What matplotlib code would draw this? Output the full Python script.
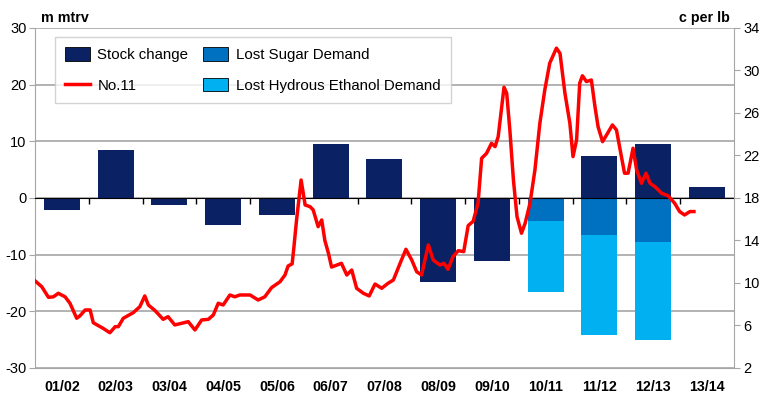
import matplotlib
matplotlib.use("Agg")
import matplotlib.pyplot as plt
import numpy as np
from matplotlib.patches import Patch
from matplotlib.lines import Line2D

plt.rcParams['font.family'] = ['Liberation Sans', 'DejaVu Sans']
plt.rcParams['axes.unicode_minus'] = False

seasons = ['01/02', '02/03', '03/04', '04/05', '05/06', '06/07', '07/08',
           '08/09', '09/10', '10/11', '11/12', '12/13', '13/14']
stock_change = [-2.1, 8.4, -1.2, -4.7, -3.0, 9.5, 6.9, -14.8, -11.1, 0.0, 7.4, 9.5, 1.9]
lost_sugar = [0, 0, 0, 0, 0, 0, 0, 0, 0, -4.1, -6.6, -7.8, 0]
lost_ethanol = [0, 0, 0, 0, 0, 0, 0, 0, 0, -12.5, -17.6, -17.3, 0]

# No.11 price, months since start of 01/02 season, c per lb
price_month = [0, 1.5, 3.0, 4.1, 5.2, 6.7, 7.8, 9.3, 10.0, 11.2, 12.3, 13.0, 15.2, 16.7,
               17.9, 18.6, 19.7, 21.9, 23.4, 24.5, 25.3, 26.8, 28.6, 29.7, 31.2, 32.7,
               34.2, 35.7, 37.2, 38.7, 39.8, 40.9, 42.0, 43.5, 44.6, 45.7, 48.0, 49.8,
               51.3, 52.8, 54.7, 55.8, 56.5, 57.4, 57.8, 58.4, 58.8, 59.4, 60.3, 61.4,
               62.1, 63.2, 64.0, 64.7, 65.5, 66.2, 68.4, 69.6, 70.7, 71.8, 73.3, 74.6,
               75.9, 77.4, 78.8, 80.0, 81.5, 82.8, 84.1, 85.2, 86.3, 87.8, 88.9, 90.4,
               91.3, 92.2, 93.3, 94.5, 95.7, 96.7, 97.8, 98.9, 99.7, 100.8, 101.9, 102.7,
               103.4, 104.1, 104.7, 105.3, 106.0, 106.8, 107.6, 108.6, 109.4, 110.5,
               111.6, 112.7, 113.8, 114.9, 116.4, 117.2, 118.3, 119.4, 120.1, 120.9,
               121.6, 122.2, 123.1, 124.2, 125.0, 125.7, 126.7, 127.6, 128.9, 129.8,
               130.5, 131.6, 132.4, 133.5, 134.3, 135.4, 136.4, 137.3, 138.4, 139.9,
               141.3, 142.8, 143.9, 145.0, 146.2, 147.1]
price = [10.2, 9.65, 8.65, 8.7, 9.03, 8.7, 8.09, 6.68, 6.9, 7.46, 7.46, 6.26, 5.73, 5.32,
         5.89, 5.89, 6.68, 7.2, 7.77, 8.78, 7.93, 7.4, 6.58, 6.83, 6.05, 6.2,
         6.36, 5.58, 6.52, 6.58, 6.99, 8.09, 7.93, 8.87, 8.7, 8.87, 8.87, 8.4,
         8.7, 9.56, 10.12, 10.75, 11.6, 11.8, 13.4, 16.0, 17.5, 19.69, 17.34, 17.18,
         16.87, 15.3, 15.93, 14.0, 12.8, 11.5, 11.85, 10.75, 11.22, 9.5, 9.03, 8.78,
         9.9, 9.5, 9.97, 10.28, 11.85, 13.17, 12.16, 11.06, 10.75, 13.58, 12.16, 11.69,
         11.85, 11.28, 12.47, 13.04, 12.95, 15.4, 15.8, 17.5, 21.73, 22.2, 23.14, 22.83,
         23.77, 26.28, 28.42, 27.85, 24.4, 19.69, 16.24, 14.68, 15.6, 17.5,
         20.64, 25.03, 28.16, 30.68, 32.1, 31.6, 27.85, 25.03, 21.89, 23.46,
         28.8, 29.5, 28.95, 29.1, 26.6, 24.7, 23.3, 23.93, 24.87, 24.4,
         22.83, 20.33, 20.33, 22.68, 20.64, 19.38, 20.33, 19.38, 19.06, 18.44,
         18.22, 17.5, 16.72, 16.4, 16.72, 16.72]

navy = '#0a2163'
mid_blue = '#0070c0'
light_blue = '#00b0f0'
grey = '#a6a6a6'

fig = plt.figure(figsize=(7.7, 3.99), dpi=100)
ax = fig.add_axes([0.0455, 0.0777, 0.9075, 0.8523])

x = np.arange(len(seasons)) + 0.5
w = 0.67
ax.bar(x, stock_change, w, color=navy, zorder=2)
ax.bar(x, lost_sugar, w, color=mid_blue, zorder=2)
ax.bar(x, lost_ethanol, w, bottom=lost_sugar, color=light_blue, zorder=2)

ax.set_xlim(0, len(seasons))
ax.set_ylim(-30, 30)
ax.set_yticks(np.arange(-30, 31, 10))
ax.yaxis.grid(True, color=grey, lw=1.2)
ax.set_axisbelow(True)

# x axis line at zero with ticks at season boundaries
ax.spines['bottom'].set_position(('data', 0))
ax.spines['bottom'].set_color('black')
ax.spines['bottom'].set_zorder(3)
ax.set_xticks(np.arange(1, len(seasons)))
ax.tick_params(axis='x', length=4, width=1, color='black', labelbottom=False)
ax.spines['top'].set_visible(False)
ax.spines['right'].set_visible(False)
ax.spines['left'].set_color(grey)
ax.tick_params(axis='y', length=4, color=grey, labelsize=10.5, pad=2)

sec = ax.secondary_xaxis('bottom')
sec.set_xticks(x, seasons, fontweight='bold', fontsize=10.3)
sec.spines['bottom'].set_color(grey)
sec.tick_params(length=0, pad=9)

ax2 = ax.twinx()
ax2.plot(np.array(price_month) / 12.0, price, color='#ff0000', lw=2.5, zorder=4)
ax2.set_ylim(2, 34)
ax2.set_yticks(np.arange(2, 35, 4))
ax2.tick_params(axis='y', length=4, color=grey, labelsize=10.5, pad=3)
for s in ['top', 'left', 'bottom']:
    ax2.spines[s].set_visible(False)
ax2.spines['right'].set_color(grey)

fig.text(0.053, 0.955, 'm mtrv', fontweight='bold', fontsize=10.3, va='center')
fig.text(0.948, 0.955, 'c per lb', fontweight='bold', fontsize=10.3, va='center', ha='right')

handles = [Patch(facecolor=navy, edgecolor='black', lw=0.6),
           Line2D([], [], color='#ff0000', lw=2.5),
           Patch(facecolor=mid_blue, edgecolor='black', lw=0.6),
           Patch(facecolor=light_blue, edgecolor='black', lw=0.6)]
labels = ['Stock change', 'No.11', 'Lost Sugar Demand', 'Lost Hydrous Ethanol Demand']
leg = ax2.legend(handles, labels, ncol=2, loc='upper left', bbox_to_anchor=(0.028, 0.974),
                 borderaxespad=0, fontsize=10.8, frameon=True, fancybox=False,
                 edgecolor='#c8c8c8', borderpad=0.7, handlelength=1.65, handleheight=1.0,
                 handletextpad=0.5, columnspacing=1.0, labelspacing=1.05)
leg.get_frame().set_linewidth(1.0)

fig.savefig('out.png', dpi=100)
